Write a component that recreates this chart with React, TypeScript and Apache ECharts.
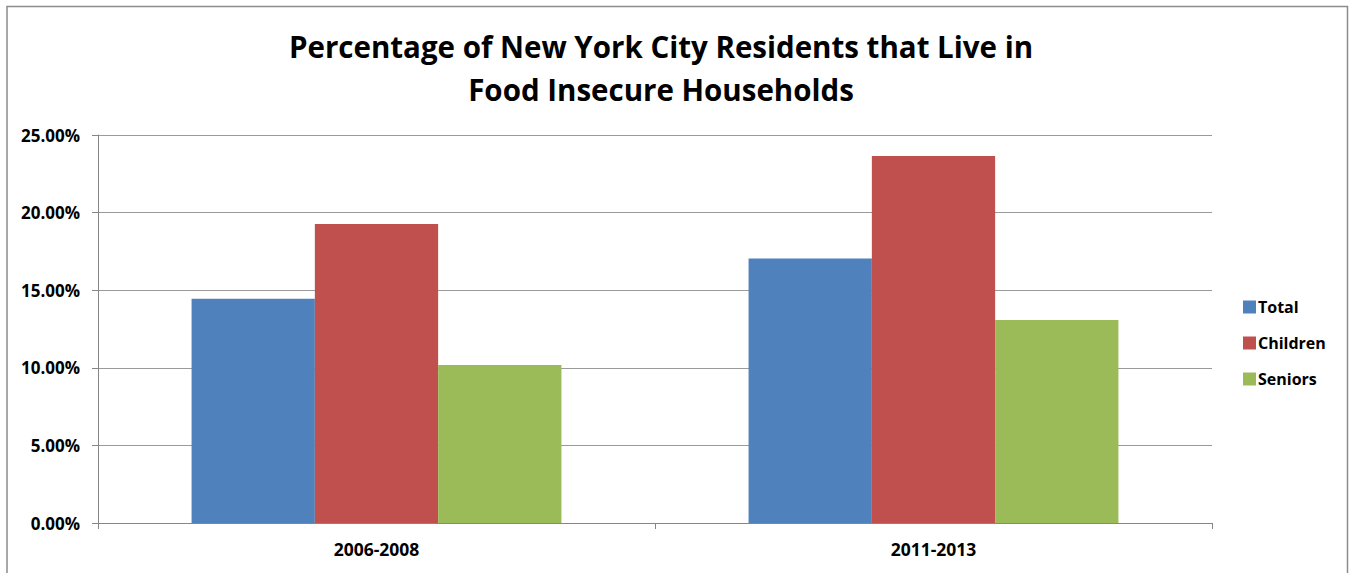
import React, { useEffect, useRef } from "react";
import * as echarts from "echarts";

const categories = ["2006-2008", "2011-2013"];
const totalValues = [14.45, 17.05];
const childrenValues = [19.27, 23.65];
const seniorsValues = [10.18, 13.08];
const seriesNames = ["Total", "Children", "Seniors"];
const titleLines = ["Percentage of New York City Residents that Live in", "Food Insecure Households"];

export default function App() {
  const ref = useRef<HTMLDivElement>(null);
  useEffect(() => {
    if (!ref.current) return;
    const chart = echarts.init(ref.current, null, { renderer: "svg" });
    const font = "'Open Sans', Lato, sans-serif";
    chart.setOption({
      animation: false,
      backgroundColor: "#ffffff",
      title: {
        text: titleLines.join("\n"),
        left: 656,
        textAlign: "center",
        top: 20,
        textStyle: { fontFamily: font, fontWeight: "bold", fontSize: 29.5, color: "#000", lineHeight: 43 },
      },
      graphic: [
        {
          type: "rect",
          shape: { x: 7, y: 6.5, width: 1340.5, height: 568 },
          style: { fill: "none", stroke: "#8c8c8c", lineWidth: 1.5 },
          silent: true,
        },
      ],
      legend: {
        orient: "vertical",
        left: 1238,
        top: 294,
        itemWidth: 13,
        itemHeight: 13,
        itemGap: 20,
        icon: "rect",
        textStyle: { fontFamily: font, fontWeight: "bold", fontSize: 16, color: "#000", padding: [0, 0, 0, -3] },
        data: seriesNames,
      },
      grid: { left: 98, right: 137, top: 135, bottom: 50, containLabel: false },
      xAxis: {
        type: "category",
        data: categories,
        axisLine: { lineStyle: { color: "#868686", width: 1 } },
        axisTick: { show: true, alignWithLabel: false, length: 6, lineStyle: { color: "#868686" } },
        axisLabel: { fontFamily: font, fontWeight: "bold", fontSize: 17.5, color: "#000", margin: 17 },
      },
      yAxis: {
        type: "value",
        min: 0,
        max: 25,
        interval: 5,
        axisLine: { show: true, lineStyle: { color: "#868686", width: 1 } },
        axisTick: { show: true, length: 6, lineStyle: { color: "#868686" } },
        splitLine: { lineStyle: { color: "#9a9a9a", width: 1 } },
        axisLabel: {
          fontFamily: font,
          fontWeight: "bold",
          fontSize: 17,
          color: "#000",
          margin: 18,
          formatter: (v: number) => v.toFixed(2) + "%",
        },
      },
      series: [
        { name: seriesNames[0], type: "bar", data: totalValues, itemStyle: { color: "#4f81bd" }, barGap: "0%", barCategoryGap: "33.6%" },
        { name: seriesNames[1], type: "bar", data: childrenValues, itemStyle: { color: "#c0504d" }, barGap: "0%", barCategoryGap: "33.6%" },
        { name: seriesNames[2], type: "bar", data: seniorsValues, itemStyle: { color: "#9bbb59" }, barGap: "0%", barCategoryGap: "33.6%" },
      ],
    });
    return () => chart.dispose();
  }, []);
  return <div ref={ref} style={{ position: "absolute", left: 0, top: 0, width: 1349, height: 573 }} />;
}
